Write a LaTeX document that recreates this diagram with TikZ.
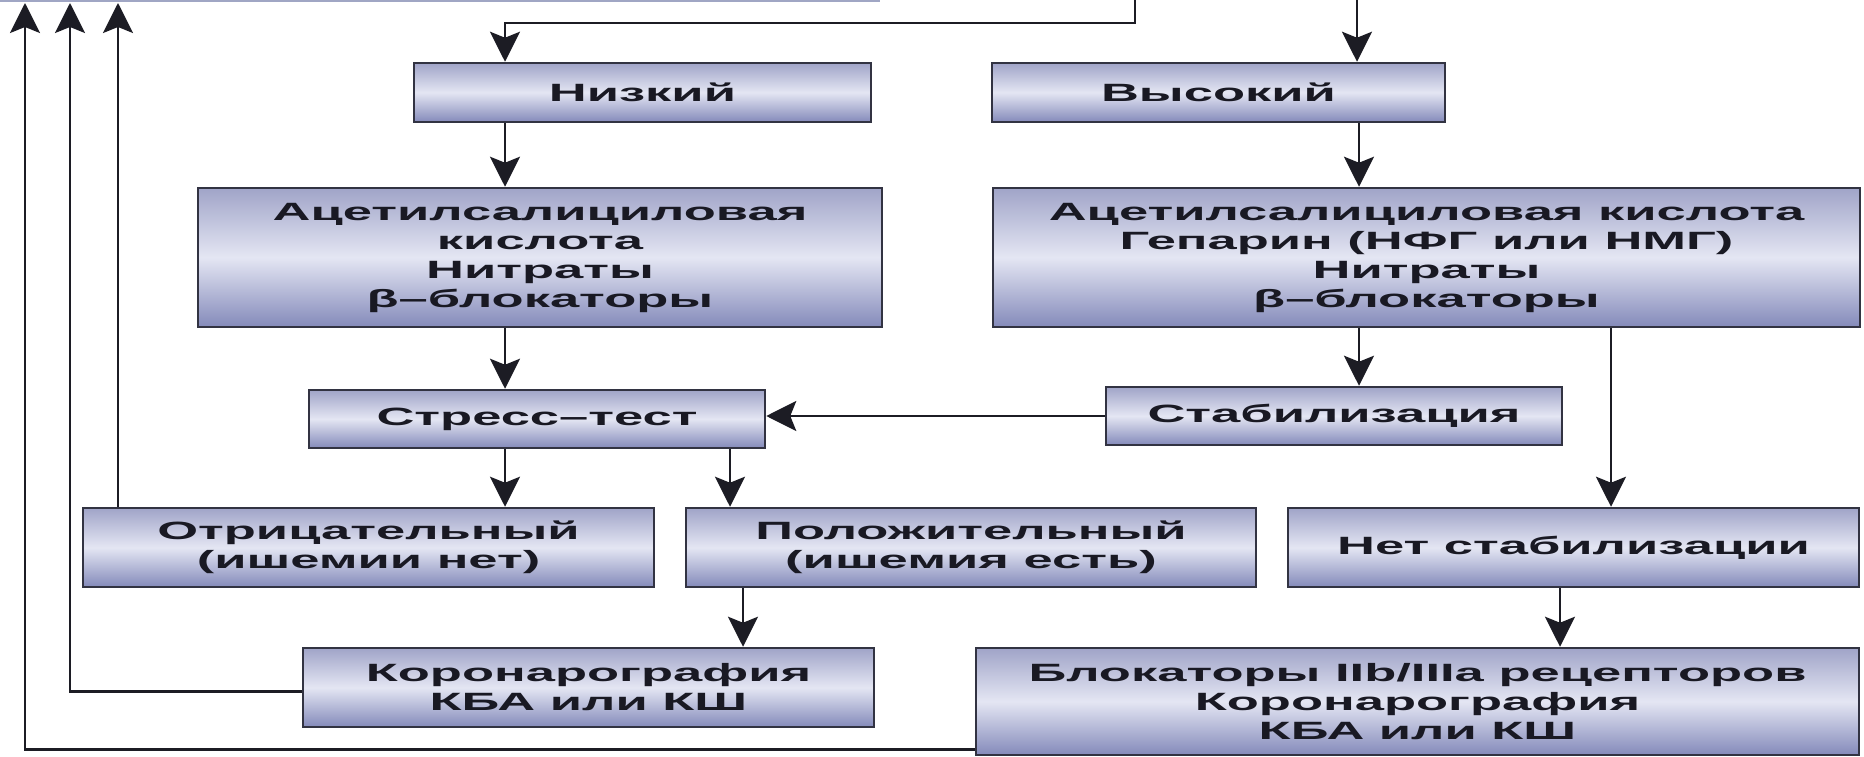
\documentclass[tikz,border=0pt]{standalone}
\usepackage{fontspec}
\newfontfamily\boxfont{Liberation Sans}[FakeStretch=2.1]
\usetikzlibrary{arrows.meta}
\definecolor{boxline}{RGB}{50,51,66}
\definecolor{boxtop}{RGB}{160,164,200}
\definecolor{boxmid}{RGB}{228,230,243}
\definecolor{boxbot}{RGB}{132,138,186}
\definecolor{linec}{RGB}{28,28,36}
\definecolor{txt}{RGB}{25,25,35}
\definecolor{faint}{RGB}{160,166,196}
\tikzset{
 box/.style={draw=boxline, line width=2.5pt, top color=boxtop, bottom color=boxbot, middle color=boxmid, inner sep=0pt, align=center, font=\boxfont\bfseries\fontsize{25}{29}\selectfont, text=txt},
 arr/.style={line width=2.5pt, draw=linec, -{Stealth[length=30pt,width=30pt,inset=6pt]}},
 ln/.style={line width=2.5pt, draw=linec}
}
\begin{document}
\begin{tikzpicture}[x=1pt,y=-1pt]
\useasboundingbox (0,0) rectangle (1864,757);
\fill[white] (0,0) rectangle (1864,757);
% boxes
\node[box, minimum width=457pt, minimum height=59pt] (nizk) at (642.5,92.5) {Низкий};
\node[box, minimum width=453pt, minimum height=59pt] (vys) at (1218.5,92.5) {Высокий};
\node[box, minimum width=684pt, minimum height=139pt] (acL) at (540,257.5) {Ацетилсалициловая\\кислота\\Нитраты\\β–блокаторы};
\node[box, minimum width=867pt, minimum height=139pt] (acR) at (1426.5,257.5) {Ацетилсалициловая кислота\\Гепарин (НФГ или НМГ)\\Нитраты\\β–блокаторы};
\node[box, minimum width=456pt, minimum height=58pt] (stress) at (537,419) {Стресс–тест};
\node[box, minimum width=456pt, minimum height=58pt] (stab) at (1334,416) {Стабилизация};
\node[box, minimum width=571pt, minimum height=79pt] (otr) at (368.5,547.5) {Отрицательный\\(ишемии нет)};
\node[box, minimum width=570pt, minimum height=79pt] (pol) at (971,547.5) {Положительный\\(ишемия есть)};
\node[box, minimum width=571pt, minimum height=79pt] (net) at (1573.5,547.5) {Нет стабилизации};
\node[box, minimum width=571pt, minimum height=79pt] (kor) at (588.5,687.5) {Коронарография\\КБА или КШ};
\node[box, minimum width=883pt, minimum height=107pt] (blok) at (1417.5,701.5) {Блокаторы IIb/IIIa рецепторов\\Коронарография\\КБА или КШ};
% helper coordinates
\coordinate (topA) at (1135,0);
\coordinate (topB) at (1357,0);
\coordinate (bendA) at (1135,23);
\coordinate (xa) at (505,0);
\coordinate (xb) at (1359,0);
\coordinate (xc) at (1611,0);
\coordinate (xd) at (730,0);
\coordinate (xe) at (743,0);
\coordinate (xf) at (1560,0);
\coordinate (up1) at (25,3);
\coordinate (up2) at (70,3);
\coordinate (up3) at (118,3);
% faint edge of a box above
\draw[faint, line width=2pt] (0,1) -- (880,1);
% connectors
\draw[arr] (topA) -- (bendA) -- (bendA -| xa) -- (nizk.north -| xa);
\draw[arr] (topB) -- (vys.north -| topB);
\draw[arr] (nizk.south -| xa) -- (acL.north -| xa);
\draw[arr] (vys.south -| xb) -- (acR.north -| xb);
\draw[arr] (acL.south -| xa) -- (stress.north -| xa);
\draw[arr] (acR.south -| xb) -- (stab.north -| xb);
\draw[arr] (acR.south -| xc) -- (net.north -| xc);
\draw[arr] (stab.west) -- (stab.west -| stress.east);
\draw[arr] (stress.south -| xa) -- (otr.north -| xa);
\draw[arr] (stress.south -| xd) -- (pol.north -| xd);
\draw[arr] (pol.south -| xe) -- (kor.north -| xe);
\draw[arr] (net.south -| xf) -- (blok.north -| xf);
\draw[arr] (otr.north -| up3) -- (up3);
\draw[arr] ([yshift=-4pt]kor.west) -- ([yshift=-4pt]kor.west -| up2) -- (up2);
\draw[arr] ([yshift=7pt]blok.south west) -- ([yshift=7pt]blok.south west -| up1) -- (up1);
\end{tikzpicture}
\end{document}
